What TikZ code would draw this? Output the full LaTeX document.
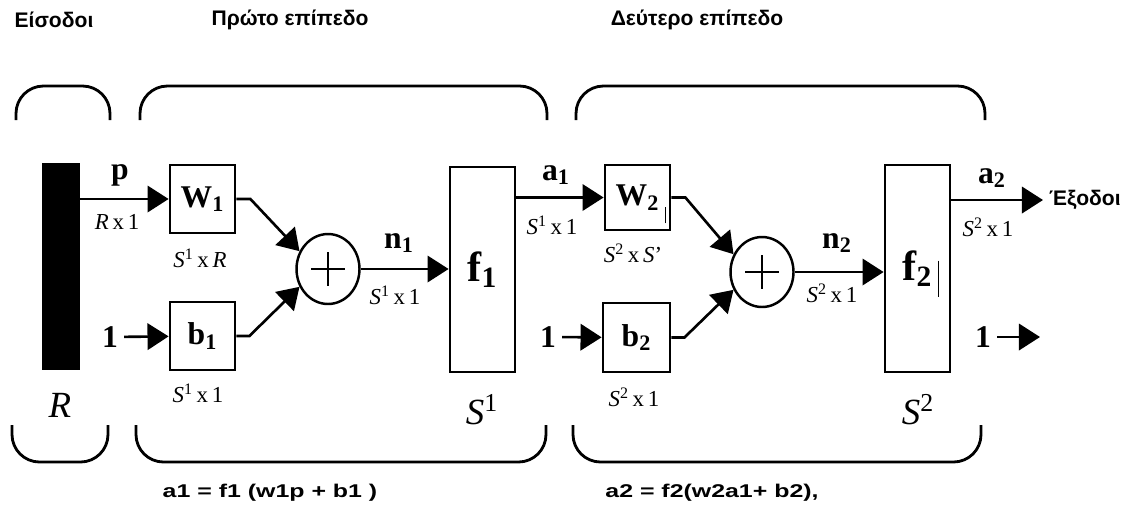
\documentclass[tikz,border=0pt]{standalone}
\usepackage{fontspec}
\setmainfont{Liberation Serif}
\setsansfont{Liberation Sans}
\newfontfamily\eqfont[FakeStretch=1.35]{Liberation Sans}
\usetikzlibrary{arrows.meta,shapes.geometric}

\begin{document}
\begin{tikzpicture}[x=0.02cm,y=-0.02cm,
  blk/.style={draw,line width=1.6pt,inner sep=0pt,font=\bfseries\fontsize{18}{18}\selectfont},
  sumnode/.style={draw,ellipse,line width=1.4pt,minimum width=1.26cm,minimum height=1.4cm,inner sep=0pt},
  arr/.style={line width=1.5pt,-{Triangle[length=12pt,width=15pt]}},
  brace/.style={line width=1.6pt,rounded corners=0.55cm},
  vec/.style={font=\bfseries\fontsize{18}{18}\selectfont},
  dim/.style={font=\fontsize{13}{13}\selectfont},
  big/.style={font=\fontsize{21}{21}\selectfont},
  title/.style={font=\sffamily\bfseries\fontsize{12}{14}\selectfont},
  eqn/.style={font=\eqfont\bfseries\fontsize{10.5}{13}\selectfont}]
  \useasboundingbox (0,0) rectangle (1131,512);

  % titles
  \node[title] (tin) at (54,20) {Είσοδοι};
  \node[title] (tl1) at (290,20) {Πρώτο επίπεδο};
  \node[title] (tl2) at (697,20) {Δεύτερο επίπεδο};

  % braces
  \draw[brace] (16,120) |- (110,86) -- (110,120);
  \draw[brace] (140,120) |- (547,86) -- (547,120);
  \draw[brace] (576,120) |- (985,86) -- (985,120);
  \draw[brace] (12,425) |- (108,462) -- (108,425);
  \draw[brace] (136,425) |- (546,462) -- (546,425);
  \draw[brace] (573,425) |- (981,462) -- (981,425);

  % blocks
  \node[fill=black,minimum width=0.76cm,minimum height=4.14cm,inner sep=0pt] (inp) at (61,266.5) {};
  \node[blk,minimum width=1.3cm,minimum height=1.36cm] (W1) at (202.5,199) {W\textsubscript{1}};
  \node[blk,minimum width=1.3cm,minimum height=1.36cm] (b1) at (202.5,336) {b\textsubscript{1}};
  \node[sumnode] (sum1) at (328,269) {};
  \node[blk,minimum width=1.3cm,minimum height=4.1cm,font=\bfseries\fontsize{24}{24}\selectfont] (f1) at (482.5,269.5) {f\textsubscript{1}};
  \node[blk,minimum width=1.3cm,minimum height=1.3cm] (W2) at (637.5,197.5) {W\textsubscript{2}};
  \node[blk,minimum width=1.34cm,minimum height=1.38cm] (b2) at (636.5,337.5) {b\textsubscript{2}};
  \node[sumnode] (sum2) at (762,272) {};
  \node[blk,minimum width=1.3cm,minimum height=4.14cm,font=\bfseries\fontsize{24}{24}\selectfont] (f2) at (917.5,268.5) {f\textsubscript{2}};

  \draw[line width=1.6pt] (sum1) +(-17,0) -- +(17,0) (sum1) +(0,-17) -- +(0,17);
  \draw[line width=1.6pt] (sum2) +(-17,0) -- +(17,0) (sum2) +(0,-17) -- +(0,17);
  \draw[line width=0.7pt] (W2.south east) ++(-6,-8) -- ++(0,-16);
  \draw[line width=0.7pt] (f2.east) ++(-13,-8) -- ++(0,36);

  % labels
  \node[vec] (lp) at (120,175) {p};
  \node[dim] (lrx) at (117,222) {\textit{R}\,x\,1};
  \node[dim] (lw1) at (200,258) {\textit{S}\textsuperscript{1}\,x\,\textit{R}};
  \node[dim] (lb1) at (198,393) {\textit{S}\textsuperscript{1}\,x\,1};
  \node[vec] (one1) at (110,337) {1};
  \node[vec] (ln1) at (399,243) {n\textsubscript{1}};
  \node[dim] (ls1) at (395,295) {\textit{S}\textsuperscript{1}\,x\,1};
  \node[vec] (la1) at (556,175) {a\textsubscript{1}};
  \node[dim] (lsa1) at (552,225) {\textit{S}\textsuperscript{1}\,x\,1};
  \node[vec] (one2) at (548,337) {1};
  \node[dim] (lw2) at (633,253) {\textit{S}\textsuperscript{2}\,x\,\textit{S}'};
  \node[dim] (lb2) at (634,397) {\textit{S}\textsuperscript{2}\,x\,1};
  \node[vec] (ln2) at (837,243) {n\textsubscript{2}};
  \node[dim] (ls2) at (832,293) {\textit{S}\textsuperscript{2}\,x\,1};
  \node[vec] (la2) at (992,178) {a\textsubscript{2}};
  \node[dim] (lsa2) at (988,227) {\textit{S}\textsuperscript{2}\,x\,1};
  \node[title,anchor=west] (out) at (1043,200) {Έξοδοι};
  \node[vec] (one3) at (983,337) {1};
  \coordinate (end3) at (1040,337);
  \node[big] (lR) at (60,405) {\textit{R}};
  \node[big] (lS1) at (482,410) {\textit{S}\textsuperscript{1}};
  \node[big] (lS2) at (918,410) {\textit{S}\textsuperscript{2}};
  \node[eqn] (eq1) at (270,493) {a1 = f1 (w1p + b1 )};
  \node[eqn] (eq2) at (712,493) {a2 = f2(w2a1+ b2),};

  % connectors
  \draw[arr] (W1.west -| inp.east) -- (W1.west);
  \draw[arr] (one1) -- (b1);
  \draw[arr] (W1.east) -- ++(14,0) -- (sum1.148);
  \draw[arr] (b1.east) -- ++(13,0) -- (sum1.212);
  \draw[arr] (sum1) -- (sum1 -| f1.west);
  \draw[arr] (f1.east |- W2.west) -- (W2.west);
  \draw[arr] (one2) -- (b2);
  \draw[arr] (W2.east) -- ++(14,0) -- (sum2.148);
  \draw[arr] (b2.east) -- ++(13,0) -- (sum2.212);
  \draw[arr] (sum2) -- (sum2 -| f2.west);
  \draw[arr] (f2.east |- out.west) -- (out.west);
  \draw[arr] (one3) -- (end3);
\end{tikzpicture}
\end{document}
